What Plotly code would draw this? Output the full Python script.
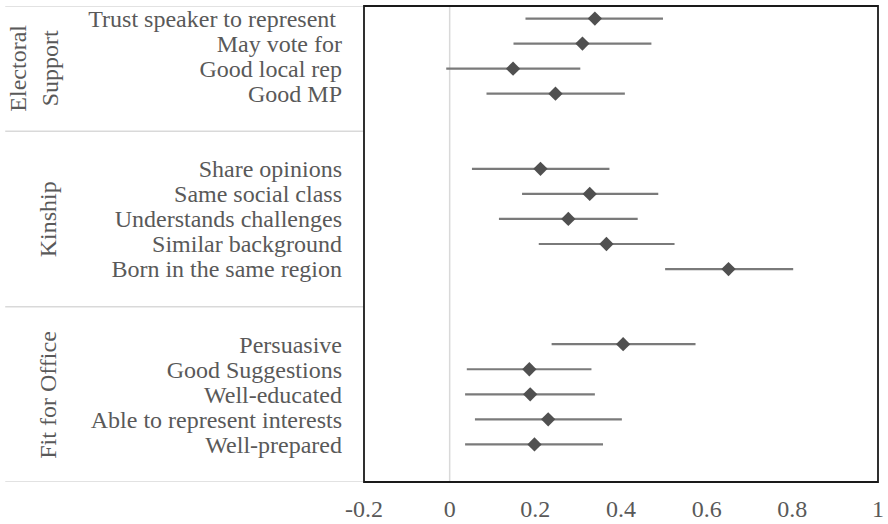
import plotly.graph_objects as go

# ---- data ----
labels = [
    "Trust speaker to represent\u00a0", "May vote for", "Good local rep", "Good MP",
    "Share opinions", "Same social class", "Understands challenges",
    "Similar background", "Born in the same region",
    "Persuasive", "Good Suggestions", "Well-educated",
    "Able to represent interests", "Well-prepared",
]
estimates = [0.339, 0.310, 0.148, 0.247,
             0.212, 0.327, 0.277, 0.366, 0.651,
             0.405, 0.186, 0.188, 0.230, 0.198]
lower = [0.177, 0.149, -0.008, 0.086,
         0.052, 0.169, 0.115, 0.208, 0.503,
         0.238, 0.040, 0.036, 0.059, 0.036]
upper = [0.498, 0.471, 0.305, 0.409,
         0.373, 0.487, 0.439, 0.525, 0.802,
         0.574, 0.331, 0.339, 0.402, 0.358]
groups = ["Electoral<br>Support", "Kinship", "Fit for Office"]
group_sizes = [4, 5, 5]
x_ticks = [-0.2, 0, 0.2, 0.4, 0.6, 0.8, 1]
x_ticktext = ["-0.2", "0", "0.2", "0.4", "0.6", "0.8", "1"]

# ---- slot layout: blank slots between groups ----
group_first_slot = [0, 6, 13]
group_bounds = [(-0.5, 4.5), (4.5, 11.5), (11.5, 18.5)]
slots = []
for first, n in zip(group_first_slot, group_sizes):
    slots += list(range(first, first + n))

err_plus = [u - e for u, e in zip(upper, estimates)]
err_minus = [e - l for e, l in zip(estimates, lower)]

FONT = "Liberation Serif, Times New Roman, serif"
TXT = "#595959"

fig = go.Figure()
fig.add_trace(go.Scatter(
    x=estimates, y=slots, mode="markers",
    marker=dict(symbol="diamond", size=11, color="#505050"),
    error_x=dict(type="data", symmetric=False, array=err_plus,
                 arrayminus=err_minus, color="#7a7a7a", thickness=2.2, width=0),
    showlegend=False, hoverinfo="skip",
))

shapes = []
# zero line
shapes.append(dict(type="line", xref="x", yref="paper", x0=0, x1=0, y0=0, y1=1,
                   line=dict(color="#d9d9d9", width=1.5), layer="below"))
# group separators on the left
for b in [-0.5, 4.5, 11.5, 18.5]:
    shapes.append(dict(type="line", xref="paper", yref="y", x0=-0.698, x1=0,
                       y0=b, y1=b, line=dict(color="#d9d9d9", width=1.5)))
# plot border
shapes.append(dict(type="rect", xref="paper", yref="paper", x0=0, x1=1, y0=0, y1=1,
                   line=dict(color="#1a1a1a", width=1.8)))

annotations = []
label_x = [-0.642, -0.614, -0.614]
for g, (b0, b1), lx in zip(groups, group_bounds, label_x):
    annotations.append(dict(text=g, xref="paper", yref="y", x=lx, y=(b0 + b1) / 2,
                            textangle=-90, showarrow=False, xanchor="center",
                            yanchor="middle",
                            font=dict(family=FONT, size=24, color=TXT)))

fig.update_layout(
    width=888, height=524,
    margin=dict(l=364, r=10, t=6, b=42, autoexpand=False),
    paper_bgcolor="white", plot_bgcolor="white",
    font=dict(family=FONT, size=24, color=TXT),
    xaxis=dict(range=[-0.2, 1], tickvals=x_ticks, ticktext=x_ticktext,
               showgrid=False, zeroline=False, showline=False, ticks="",
               ticklabelstandoff=10, fixedrange=True, automargin=False),
    yaxis=dict(range=[18.5, -0.5], tickvals=slots, ticktext=labels,
               showgrid=False, zeroline=False, showline=False, ticks="",
               ticklabelstandoff=21, fixedrange=True, automargin=False),
    shapes=shapes, annotations=annotations,
)

fig.write_html("out.html", config={"displayModeBar": False},
               post_script="document.body.style.margin='0';")
